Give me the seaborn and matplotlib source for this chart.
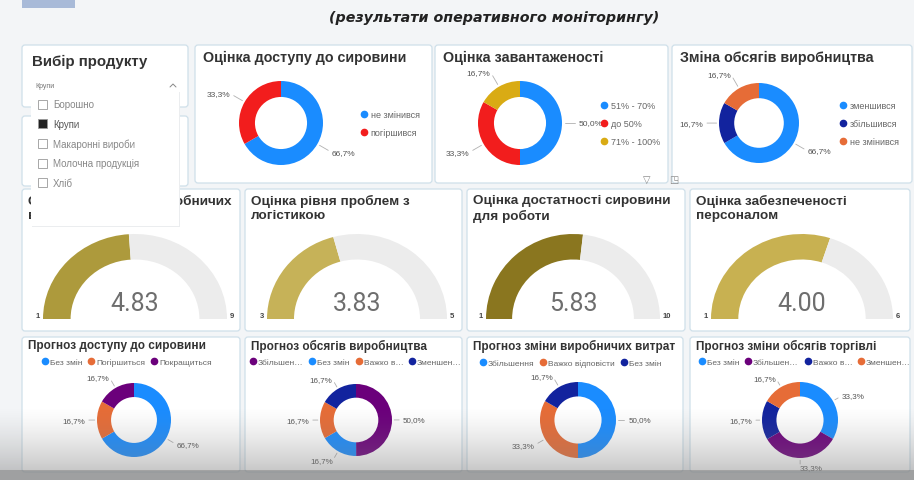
import numpy as np
import matplotlib.pyplot as plt
import seaborn as sns
from matplotlib.patches import FancyBboxPatch, Rectangle
from matplotlib.lines import Line2D

sns.set_theme(style='white')
plt.rcParams['font.family'] = ['Liberation Sans', 'DejaVu Sans']

W, H = 914, 481

# ---- data ----
products = ['Борошно', 'Крупи', 'Макаронні вироби', 'Молочна продукція', 'Хліб']
selected = 'Крупи'

access_labels = ['не змінився', 'погіршився']
access_vals = [66.7, 33.3]
load_labels = ['51% - 70%', 'до 50%', '71% - 100%']
load_vals = [50.0, 33.3, 16.7]
volume_labels = ['зменшився', 'збільшився', 'не змінився']
volume_vals = [66.7, 16.7, 16.7]

gauge_titles = [['Оцінка зростання виробничих', 'витрат'],
                ['Оцінка рівня проблем з', 'логістикою'],
                ['Оцінка достатності сировини', 'для роботи'],
                ['Оцінка забезпеченості', 'персоналом']]
gauge_vals = [4.83, 3.83, 5.83, 4.00]
gauge_min = [1, 3, 1, 1]
gauge_max = [9, 5, 10, 6]

fc_access_labels = ['Без змін', 'Погіршиться', 'Покращиться']
fc_access_vals = [66.7, 16.7, 16.7]
fc_volume_labels = ['Збільшен…', 'Без змін', 'Важко в…', 'Зменшен…']
fc_volume_vals = [50.0, 16.7, 16.7, 16.7]
fc_cost_labels = ['Збільшення', 'Важко відповісти', 'Без змін']
fc_cost_vals = [50.0, 33.3, 16.7]
fc_trade_labels = ['Без змін', 'Збільшен…', 'Важко в…', 'Зменшен…']
fc_trade_vals = [33.3, 33.3, 16.7, 16.7]

BLUE, RED, GOLD = '#1a8cff', '#f21d1d', '#d9ab14'
NAVY, ORANGE, PURPLE = '#12239e', '#e66c37', '#6b007b'
gauge_cols = ['#ad9a3c', '#c6b258', '#8a761f', '#c8b151']

fig = plt.figure(figsize=(W / 100, H / 100), dpi=100)
fig.patch.set_facecolor('#f3f5f7')
bg = fig.add_axes([0, 0, 1, 1])
bg.set_xlim(0, W)
bg.set_ylim(H, 0)
bg.axis('off')


def panel(x, y, w, h, z=1):
    bg.add_patch(FancyBboxPatch((x, y), w, h, boxstyle='round,pad=0,rounding_size=3',
                                fc='white', ec='#cfe0ea', lw=0.9, zorder=z))


def pct(v):
    return f'{v:.1f}%'.replace('.', ',')


def donut(cx, cy, r, vals, cols, fs=6, dist=1.4):
    ax = fig.add_axes([(cx - r) / W, 1 - (cy + r) / H, 2 * r / W, 2 * r / H])
    wedges, texts = ax.pie(vals, colors=cols, startangle=90, counterclock=False,
                           labels=[pct(v) for v in vals], labeldistance=dist,
                           wedgeprops=dict(width=0.38, linewidth=0),
                           textprops=dict(fontsize=fs, color='#555555'))
    for w in wedges:
        a = np.deg2rad((w.theta1 + w.theta2) / 2)
        ax.plot([1.06 * np.cos(a), (dist - 0.1) * np.cos(a)],
                [1.06 * np.sin(a), (dist - 0.1) * np.sin(a)],
                color='#b0b0b0', lw=0.6, clip_on=False)
    ax.set_xlim(-1, 1)
    ax.set_ylim(-1, 1)
    ax.set_aspect('auto')
    ax.axis('off')


def vlegend(x, y, labels, cols):
    hs = [Line2D([], [], marker='o', ls='', color=c, markersize=4.5) for c in cols]
    fig.legend(hs, labels, loc='upper left', bbox_to_anchor=(x / W, 1 - y / H),
               frameon=False, fontsize=6.5, handlelength=0.8, handletextpad=0.4,
               labelspacing=1.0, borderpad=0, borderaxespad=0, labelcolor='#666666')


def hlegend(x, y, labels, cols, colsp=0.7):
    hs = [Line2D([], [], marker='o', ls='', color=c, markersize=4.5) for c in cols]
    fig.legend(hs, labels, loc='center left', bbox_to_anchor=(x / W, 1 - y / H),
               frameon=False, fontsize=6, handlelength=0.7, handletextpad=0.25,
               columnspacing=colsp, ncol=len(labels), borderpad=0, borderaxespad=0,
               labelcolor='#666666')


def gauge(cx, cy, rx, ry, val, lo, hi, col):
    ax = fig.add_axes([(cx - rx) / W, 1 - cy / H, 2 * rx / W, ry / H])
    wedges, _ = ax.pie([val - lo, hi - val, hi - lo], colors=[col, '#ececec', 'white'],
                       startangle=180, counterclock=False,
                       wedgeprops=dict(width=0.3, linewidth=0))
    wedges[2].set_visible(False)
    ax.set_xlim(-1, 1)
    ax.set_ylim(0, 1)
    ax.set_aspect('auto')
    ax.axis('off')
    bg.text(cx, cy - 16, f'{val:.2f}', ha='center', va='center', fontsize=18,
            family='Roboto', color='#6e6e6e', zorder=5)
    bg.text(cx - rx - 3, cy - 3, str(lo), ha='right', va='center', fontsize=5.5,
            color='#444444', fontweight='bold', zorder=5)
    bg.text(cx + rx + 3, cy - 3, str(hi), ha='left', va='center', fontsize=5.5,
            color='#444444', fontweight='bold', zorder=5)


# ---- header ----
bg.add_patch(Rectangle((22, 0), 53, 9, fc='#a8bad8', ec='none', zorder=1))
bg.text(494, 18, '(результати оперативного моніторингу)', ha='center', va='center',
        fontsize=10.3, fontweight='bold', fontstyle='italic', family='DejaVu Sans',
        color='#222222')

# ---- row 1 ----
panel(22, 46, 166, 62)
panel(22, 117, 166, 70)
bg.text(32, 62, 'Вибір продукту', fontsize=10.8, fontweight='bold', color='#333333', va='center')
bg.text(35, 87, selected, fontsize=5, color='#777777', va='center')
bg.plot([170, 173, 176], [88, 85, 88], color='#888888', lw=0.7)

row1 = [(195, 237, 'Оцінка доступу до сировини'),
        (435, 233, 'Оцінка завантаженості'),
        (672, 240, 'Зміна обсягів виробництва')]
for x, w, t in row1:
    panel(x, 46, w, 138)
    bg.text(x + 8, 58, t, fontsize=10.3, fontweight='bold', color='#333333', va='center', zorder=2)

donut(281, 124, 42, access_vals, [BLUE, RED])
vlegend(360, 111, access_labels, [BLUE, RED])
donut(520, 124, 42, load_vals, [BLUE, RED, GOLD])
vlegend(600, 102, load_labels, [BLUE, RED, GOLD])
donut(759, 124, 40, volume_vals, [BLUE, NAVY, ORANGE])
vlegend(839, 102, volume_labels, [BLUE, NAVY, ORANGE])

bg.text(647, 180, '▽', fontsize=7, color='#888888', ha='center', va='center', family='DejaVu Sans')
bg.text(674, 180, '◳', fontsize=7, color='#888888', ha='center', va='center', family='DejaVu Sans')

# ---- row 2 (gauges) ----
g_x = [(22, 218), (245, 217), (467, 218), (690, 220)]
g_c = [(135, 92), (357, 90), (573, 87), (802, 91)]
for i in range(4):
    x, w = g_x[i]
    panel(x, 190, w, 142)
    bg.text(x + 6, 201, gauge_titles[i][0], fontsize=9.7, fontweight='bold', color='#333333',
            va='center', zorder=2)
    bg.text(x + 6, 216, gauge_titles[i][1], fontsize=9.7, fontweight='bold', color='#333333',
            va='center', zorder=2)
    gauge(g_c[i][0], 320, g_c[i][1], 85, gauge_vals[i], gauge_min[i], gauge_max[i], gauge_cols[i])

# ---- dropdown list of the slicer ----
bg.add_patch(Rectangle((32, 93), 148, 135, fc='#ebedef', ec='none', zorder=3))
bg.add_patch(Rectangle((31, 92), 148, 135, fc='white', ec='none', zorder=4))
for i, p in enumerate(products):
    yy = 105 + i * 19.7
    chk = p == selected
    bg.add_patch(Rectangle((38, yy - 4.5), 9, 9, fc='#222222' if chk else 'white',
                           ec='#999999', lw=0.6, zorder=5))
    bg.text(53, yy, p, fontsize=7, color='#555555' if chk else '#888888', va='center', zorder=5)

# ---- row 3 (forecast donuts) ----
row3 = [(22, 218, 'Прогноз доступу до сировини'),
        (245, 217, 'Прогноз обсягів виробництва'),
        (467, 216, 'Прогноз зміни виробничих витрат'),
        (690, 220, 'Прогноз зміни обсягів торгівлі')]
for x, w, t in row3:
    panel(x, 338, w, 135)
    bg.text(x + 6, 346, t, fontsize=8.5, fontweight='bold', color='#333333', va='center', zorder=2)

donut(134, 421, 37, fc_access_vals, [BLUE, ORANGE, PURPLE], fs=5.8, dist=1.32)
hlegend(42, 363, fc_access_labels, [BLUE, ORANGE, PURPLE])
donut(356, 421, 36, fc_volume_vals, [PURPLE, BLUE, ORANGE, NAVY], fs=5.8, dist=1.3)
hlegend(250, 363, fc_volume_labels, [PURPLE, BLUE, ORANGE, NAVY])
donut(578, 421, 38, fc_cost_vals, [BLUE, ORANGE, NAVY], fs=5.8, dist=1.32)
hlegend(480, 364, fc_cost_labels, [BLUE, ORANGE, NAVY])
donut(800, 421, 38, fc_trade_vals, [BLUE, PURPLE, NAVY, ORANGE], fs=5.8, dist=1.26)
hlegend(699, 363, fc_trade_labels, [BLUE, PURPLE, NAVY, ORANGE])

# ---- grey shading at the bottom of the screenshot ----
ov = fig.add_axes([0, 0, 1, 1], zorder=20)
ov.axis('off')
yy = np.arange(H)
shade = np.zeros((H, 1, 4))
shade[..., :3] = 0.5
a = np.clip((yy - 408) / 62, 0, 1) ** 1.3 * 0.42
a[yy >= 471] = 0.72
shade[:, 0, 3] = a
ov.imshow(shade, extent=(0, W, H, 0), aspect='auto')
ov.set_xlim(0, W)
ov.set_ylim(H, 0)

fig.savefig('out.png', dpi=100, facecolor=fig.get_facecolor())
